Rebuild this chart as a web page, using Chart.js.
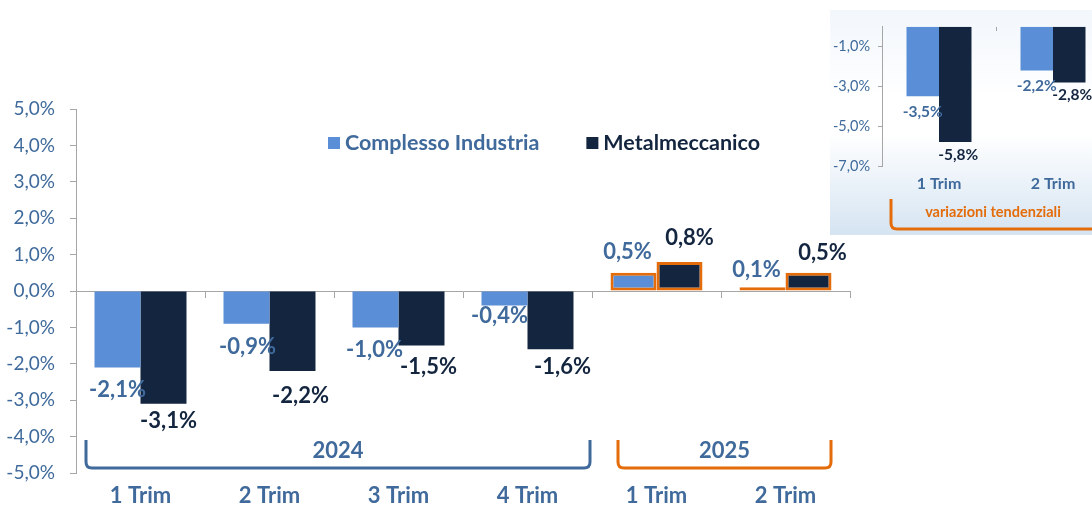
<!DOCTYPE html>
<html>
<head>
<meta charset="utf-8">
<script src="https://cdn.jsdelivr.net/npm/chart.js@4.4.1/dist/chart.umd.min.js"></script>
<style>
html, body { margin: 0; padding: 0; background: #fff; }
#wrap { position: relative; width: 1092px; height: 505px; overflow: hidden; }
#main { position: absolute; left: 0; top: 0; }
#insetBox {
    position: absolute; left: 830px; top: 10px; width: 262px; height: 225px; overflow: hidden;
    background: linear-gradient(to bottom, #F2F7FC 0%, #FFFFFF 40%, #FFFFFF 55%, #D5E4F2 100%);
}
#inset { position: absolute; left: 0; top: 0; }
</style>
</head>
<body>
<div id="wrap">
    <canvas id="main" width="1092" height="505"></canvas>
    <div id="insetBox"><canvas id="inset" width="300" height="225"></canvas></div>
</div>
<script>
// main chart data
var categories = ['1 Trim', '2 Trim', '3 Trim', '4 Trim', '1 Trim', '2 Trim'];
var categoryYear = ['2024', '2024', '2024', '2024', '2025', '2025'];
var industria = [-2.1, -0.9, -1.0, -0.4, 0.5, 0.1];
var metalmeccanico = [-3.1, -2.2, -1.5, -1.6, 0.8, 0.5];
var yTicks = [-5, -4, -3, -2, -1, 0, 1, 2, 3, 4, 5];
var seriesNames = ['Complesso Industria', 'Metalmeccanico'];

// inset (variazioni tendenziali)
var insetCategories = ['1 Trim', '2 Trim'];
var insetIndustria = [-3.5, -2.2];
var insetMetal = [-5.8, -2.8];
var insetTicks = [-7, -5, -3, -1];
var insetTitle = 'variazioni tendenziali';

var LIGHT = '#5A8ED6', DARK = '#13253F', TEXTBLUE = '#3F6A9B', ORANGE = '#E46C0A', AXIS = '#A6A6A6';
var FONT = 'Lato';

function pct(v, digits) {
    return v.toFixed(digits === undefined ? 1 : digits).replace('.', ',') + '%';
}

var valueLabels = {
    id: 'valueLabels',
    afterDatasetsDraw: function(chart, args, opts) {
        var ctx = chart.ctx;
        ctx.save();
        ctx.font = opts.font;
        ctx.textAlign = 'center';
        ctx.textBaseline = 'middle';
        chart.data.datasets.forEach(function(ds, di) {
            var meta = chart.getDatasetMeta(di);
            ctx.fillStyle = opts.colors[di];
            meta.data.forEach(function(bar, i) {
                var v = ds.data[i];
                var sh = (opts.shift && opts.shift[di]) ? opts.shift[di][i] : [0, 0];
                var gap = opts.gap[di];
                var y = v < 0 ? bar.y + gap : bar.y - gap;
                ctx.fillText(pct(v), bar.x + sh[0], y + sh[1]);
            });
        });
        ctx.restore();
    }
};

var bracketPlugin = {
    id: 'brackets',
    afterDraw: function(chart, args, opts) {
        var ctx = chart.ctx, x = chart.scales.x, area = chart.chartArea;
        var half = (x.getPixelForValue(1) - x.getPixelForValue(0)) / 2;
        ctx.save();
        opts.groups.forEach(function(g) {
            var left = x.getPixelForValue(g.from) - half + g.inL;
            var right = x.getPixelForValue(g.to) + half - g.inR;
            var top = area.bottom + opts.top, bottom = area.bottom + opts.bottom, r = 6;
            ctx.strokeStyle = g.color;
            ctx.lineWidth = 3;
            ctx.beginPath();
            ctx.moveTo(left, top);
            ctx.lineTo(left, bottom - r);
            ctx.quadraticCurveTo(left, bottom, left + r, bottom);
            ctx.lineTo(right - r, bottom);
            ctx.quadraticCurveTo(right, bottom, right, bottom - r);
            ctx.lineTo(right, top);
            ctx.stroke();
            ctx.fillStyle = g.textColor;
            ctx.font = opts.font;
            ctx.textAlign = 'center';
            ctx.textBaseline = 'middle';
            ctx.fillText(g.label, (left + right) / 2 + (g.dx || 0), area.bottom + opts.textY);
        });
        ctx.restore();
    }
};

var legendPlugin = {
    id: 'ownLegend',
    afterDraw: function(chart, args, opts) {
        var ctx = chart.ctx;
        var x = opts.x, y = opts.y;
        ctx.save();
        ctx.font = opts.font;
        ctx.textBaseline = 'middle';
        ctx.textAlign = 'left';
        chart.data.datasets.forEach(function(ds, i) {
            ctx.fillStyle = ds.backgroundColor;
            ctx.fillRect(x, y - 6, 12, 12);
            ctx.fillStyle = opts.colors[i];
            ctx.fillText(ds.label, x + 17, y);
            x += 17 + ctx.measureText(ds.label).width + 47;
        });
        ctx.restore();
    }
};

// year brackets from categoryYear
var years = [];
categoryYear.forEach(function(y, i) {
    var last = years[years.length - 1];
    if (last && last.label === y) { last.to = i; } else { years.push({label: y, from: i, to: i}); }
});
var bracketStyle = {
    '2024': {color: '#3F6A9B', inL: 10, inR: 2},
    '2025': {color: ORANGE, inL: 26, inR: 19}
};
years.forEach(function(g) {
    g.color = bracketStyle[g.label].color;
    g.inL = bracketStyle[g.label].inL;
    g.inR = bracketStyle[g.label].inR;
    g.textColor = TEXTBLUE;
});

var border2025 = categoryYear.map(function(y) { return y === '2025' ? ORANGE : 'rgba(0,0,0,0)'; });
var width2025 = categoryYear.map(function(y) { return y === '2025' ? 3 : 0; });

new Chart(document.getElementById('main'), {
    type: 'bar',
    data: {
        labels: categories,
        datasets: [
            {label: seriesNames[0], data: industria, backgroundColor: LIGHT, borderColor: border2025,
             borderWidth: width2025, borderSkipped: false, categoryPercentage: 0.713, barPercentage: 1},
            {label: seriesNames[1], data: metalmeccanico, backgroundColor: DARK, borderColor: border2025,
             borderWidth: width2025, borderSkipped: false, categoryPercentage: 0.713, barPercentage: 1}
        ]
    },
    options: {
        responsive: false,
        animation: false,
        devicePixelRatio: 1,
        layout: {padding: {top: 109, right: 242, left: 0, bottom: 0}},
        plugins: {
            legend: {display: false},
            tooltip: {enabled: false},
            valueLabels: {
                font: 'bold 22px ' + FONT,
                colors: [TEXTBLUE, DARK],
                gap: [22, 19],
                shift: [
                    [[0, 0], [1, 1], [-1, 1], [-5, -12], [-6, 1], [-6, 5]],
                    [[5, -2], [8, 6], [7, 2], [12, -1], [10, -5], [14, -1]]
                ]
            },
            brackets: {groups: years, top: -33, bottom: -5, textY: -22, font: 'bold 22px ' + FONT},
            ownLegend: {x: 328, y: 143, font: 'bold 21.5px ' + FONT, colors: [TEXTBLUE, DARK]}
        },
        scales: {
            x: {
                afterFit: function(s) { s.height = 32; },
                grid: {display: false, drawTicks: false},
                border: {display: false},
                ticks: {padding: 10, color: TEXTBLUE, font: {family: FONT, size: 22, weight: 'bold'}}
            },
            x2: {
                type: 'category',
                labels: categories,
                position: {y: 0},
                offset: true,
                grid: {drawOnChartArea: false, offset: true, tickLength: 6, color: AXIS},
                border: {color: AXIS},
                ticks: {display: false}
            },
            y: {
                min: -5, max: 5,
                afterBuildTicks: function(s) { s.ticks = yTicks.map(function(v) { return {value: v}; }); },
                afterFit: function(s) { s.width = 76; },
                grid: {drawOnChartArea: false, tickLength: 6, color: AXIS},
                border: {color: AXIS},
                ticks: {padding: 15, color: TEXTBLUE, font: {family: FONT, size: 19},
                        callback: function(v) { return pct(v); }}
            }
        }
    },
    plugins: [valueLabels, bracketPlugin, legendPlugin]
});

new Chart(document.getElementById('inset'), {
    type: 'bar',
    data: {
        labels: insetCategories,
        datasets: [
            {label: seriesNames[0], data: insetIndustria, backgroundColor: LIGHT, borderWidth: 0,
             categoryPercentage: 0.57, barPercentage: 1},
            {label: seriesNames[1], data: insetMetal, backgroundColor: DARK, borderWidth: 0,
             categoryPercentage: 0.57, barPercentage: 1}
        ]
    },
    options: {
        responsive: false,
        animation: false,
        devicePixelRatio: 1,
        layout: {padding: {top: 1, right: 20, left: 0, bottom: 0}},
        plugins: {
            legend: {display: false},
            tooltip: {enabled: false},
            valueLabels: {
                font: 'bold 15.5px ' + FONT,
                colors: [TEXTBLUE, DARK],
                gap: [16, 13],
                shift: [[[0, 0], [0, 0]], [[3, 0], [3, 0]]]
            },
            brackets: {
                groups: [{label: insetTitle, from: 0, to: 1, inL: 9, inR: 9, color: ORANGE, textColor: ORANGE, dx: -3}],
                top: 33, bottom: 63, textY: 46, font: 'bold 14.5px ' + FONT
            }
        },
        scales: {
            x: {
                afterFit: function(s) { s.height = 69; },
                grid: {display: false, drawTicks: false},
                border: {display: false},
                ticks: {padding: 8, color: TEXTBLUE, font: {family: FONT, size: 16, weight: 'bold'}}
            },
            x2: {
                type: 'category',
                labels: insetCategories,
                position: {y: 0},
                offset: true,
                grid: {drawOnChartArea: false, offset: true, tickLength: 4, color: AXIS},
                border: {display: false},
                ticks: {display: false}
            },
            y: {
                min: -7, max: 0,
                afterBuildTicks: function(s) { s.ticks = insetTicks.map(function(v) { return {value: v}; }); },
                afterFit: function(s) { s.width = 52; },
                grid: {drawOnChartArea: false, tickLength: 4, color: AXIS},
                border: {color: AXIS},
                ticks: {padding: 8, color: TEXTBLUE, font: {family: FONT, size: 14.5},
                        callback: function(v) { return pct(v); }}
            }
        }
    },
    plugins: [valueLabels, bracketPlugin]
});
</script>
</body>
</html>
